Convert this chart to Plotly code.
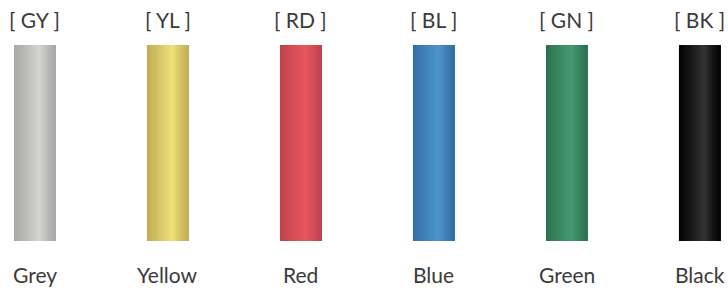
import plotly.graph_objects as go

codes = ["[ GY ]", "[ YL ]", "[ RD ]", "[ BL ]", "[ GN ]", "[ BK ]"]
names = ["Grey", "Yellow", "Red", "Blue", "Green", "Black"]
values = [1, 1, 1, 1, 1, 1]
# gradient stops per colour: dark edge, mid, highlight, mid, dark edge
shades = [
    ["#a7a9a7", "#b4b6b3", "#d6d5ce", "#b7b8b5", "#a5a7a5"],
    ["#c2ad56", "#cfbb5f", "#efe27a", "#d2c062", "#c1ab55"],
    ["#b9424b", "#cc4a53", "#e8565f", "#cf4b55", "#b8414a"],
    ["#336d9e", "#3b7cb1", "#4c94cc", "#3d7db3", "#326b9b"],
    ["#2a6d4e", "#34805c", "#449c72", "#358160", "#2a6b4d"],
    ["#000000", "#111111", "#333333", "#141414", "#000000"],
]
stops = [0.0, 0.2, 0.6, 0.82, 1.0]
half_w = 0.158

fig = go.Figure()
for i, (v, sh) in enumerate(zip(values, shades)):
    xs = [i - half_w, i + half_w, i + half_w, i - half_w, i - half_w]
    ys = [0, 0, v, v, 0]
    fig.add_trace(go.Scatter(
        x=xs, y=ys, mode="lines", fill="toself",
        line=dict(width=0, color="rgba(0,0,0,0)"),
        fillgradient=dict(type="horizontal",
                          colorscale=[[s, c] for s, c in zip(stops, sh)]),
        hoverinfo="skip", showlegend=False,
    ))

font = dict(family="Lato, 'Noto Sans', sans-serif", size=21, color="#3a3a3a")
for i, (c, n) in enumerate(zip(codes, names)):
    fig.add_annotation(x=i, y=0.932, xref="x", yref="paper", text=c,
                       showarrow=False, font=font, yanchor="middle")
    fig.add_annotation(x=i, y=0.058, xref="x", yref="paper", text=n,
                       showarrow=False, font=font, yanchor="middle")

fig.update_layout(
    width=728, height=291,
    margin=dict(l=0, r=0, t=0, b=0),
    paper_bgcolor="white", plot_bgcolor="white",
    xaxis=dict(range=[-0.263, 5.211], visible=False, fixedrange=True),
    yaxis=dict(range=[-0.255, 1.2296], visible=False, fixedrange=True),
)
fig.write_html("out.html", config={"displayModeBar": False},
               post_script="document.body.style.margin='0';document.body.style.overflow='hidden';")
